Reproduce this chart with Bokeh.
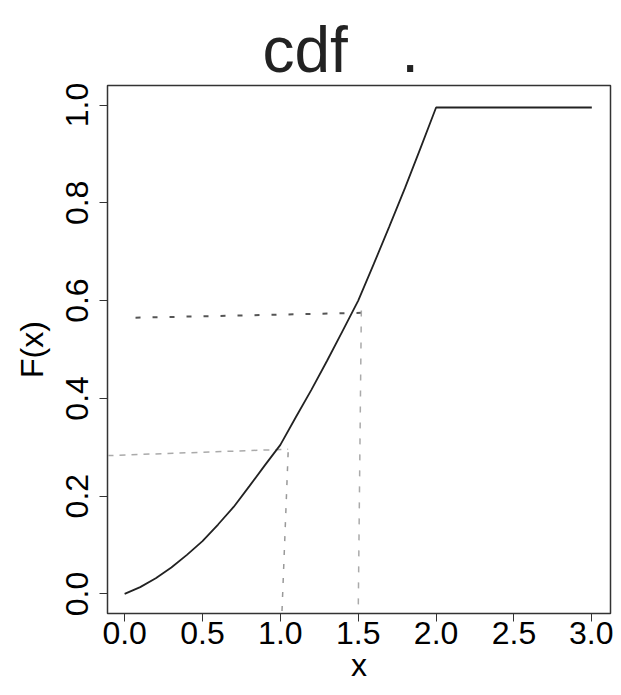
from bokeh.plotting import figure
from bokeh.models import Range1d, FixedTicker, Title
from bokeh.embed import file_html
from bokeh.resources import INLINE

# CDF values
x_vals = [0.0, 0.1, 0.2, 0.3, 0.4, 0.5, 0.6, 0.7, 0.8, 0.9, 1.0,
          1.1, 1.2, 1.3, 1.4, 1.5, 1.6, 1.7, 1.8, 1.9, 2.0, 3.0]
F_vals = [0.0, 0.014, 0.032, 0.054, 0.08, 0.108, 0.142, 0.178, 0.22, 0.263, 0.305,
          0.362, 0.418, 0.477, 0.538, 0.60, 0.675, 0.752, 0.83, 0.912, 0.995, 0.995]

x_ticks = [0.0, 0.5, 1.0, 1.5, 2.0, 2.5, 3.0]
x_tick_labels = ["0.0", "0.5", "1.0", "1.5", "2.0", "2.5", "3.0"]
y_ticks = [0.0, 0.2, 0.4, 0.6, 0.8, 1.0]
y_tick_labels = ["0.0", "0.2", "0.4", "0.6", "0.8", "1.0"]

# hand-drawn guide lines (dashed)
guide1_x = [0.07, 1.52]
guide1_y = [0.565, 0.575]
guide1v_x = [1.52, 1.50]
guide1v_y = [0.58, -0.04]
guide2_x = [-0.11, 1.05]
guide2_y = [0.283, 0.296]
guide2v_x = [1.05, 1.01]
guide2v_y = [0.29, -0.04]

FONT = "Liberation Sans"

p = figure(width=613, height=687, output_backend="svg", toolbar_location=None,
           x_range=Range1d(-0.11, 3.12), y_range=Range1d(-0.04, 1.04),
           min_border_left=107, min_border_right=3, min_border_top=85,
           min_border_bottom=74)
p.title = Title(text="cdf\u00a0\u00a0\u00a0.", text_font=FONT, text_font_size="64px",
                text_font_style="normal", text_color="#222222", align="left",
                offset=155, standoff=0)
p.grid.visible = False
p.outline_line_color = "#333333"
p.outline_line_width = 1.5
p.background_fill_color = "white"
p.border_fill_color = "white"

p.xaxis.ticker = FixedTicker(ticks=x_ticks)
p.yaxis.ticker = FixedTicker(ticks=y_ticks)
p.xaxis.major_label_overrides = {t: s for t, s in zip(x_ticks, x_tick_labels)}
p.yaxis.major_label_overrides = {t: s for t, s in zip(y_ticks, y_tick_labels)}
p.xaxis.bounds = (0, 3)
p.yaxis.bounds = (0, 1)
for ax in (p.xaxis, p.yaxis):
    ax.major_tick_in = 0
    ax.major_tick_out = 8
    ax.minor_tick_line_color = None
    ax.axis_line_color = "#333333"
    ax.major_tick_line_color = "#333333"
    ax.major_label_text_font = FONT
    ax.major_label_text_font_size = "32px"
    ax.major_label_text_color = "black"
    ax.axis_label_text_font = FONT
    ax.axis_label_text_font_size = "32px"
    ax.axis_label_text_font_style = "normal"
    ax.axis_label_text_color = "black"
p.xaxis.axis_label = "x"
p.yaxis.axis_label = "F(x)"
p.yaxis.major_label_orientation = "vertical"
p.xaxis.major_label_standoff = 0
p.yaxis.major_label_standoff = 11
p.xaxis.axis_label_standoff = 0
p.yaxis.axis_label_standoff = 14

p.line(guide1_x, guide1_y, line_color="#555555", line_width=2, line_dash="5 12")
p.line(guide1v_x, guide1v_y, line_color="#aaaaaa", line_width=1.5, line_dash="6 10")
p.line(guide2_x, guide2_y, line_color="#aaaaaa", line_width=1.5, line_dash="6 6")
p.line(guide2v_x, guide2v_y, line_color="#999999", line_width=1.5, line_dash="5 9")

p.line(x_vals, F_vals, line_color="#222222", line_width=1.8)

open("out.html", "w").write(file_html(p, INLINE))
